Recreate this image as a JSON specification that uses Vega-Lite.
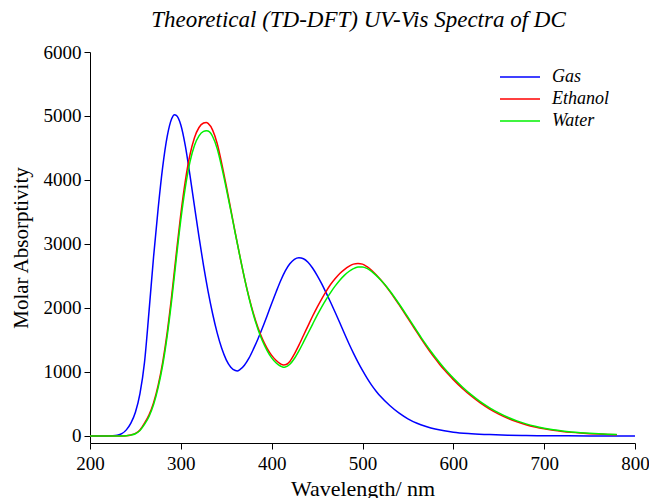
{
  "$schema": "https://vega.github.io/schema/vega-lite/v6.json",
  "width": 545,
  "height": 391,
  "autosize": "none",
  "padding": {"left": 90, "top": 52, "right": 14, "bottom": 55},
  "background": "white",
  "title": {"text": "Theoretical (TD-DFT) UV-Vis Spectra of DC", "font": "Liberation Serif", "fontStyle": "italic", "fontWeight": "normal", "fontSize": 23, "color": "black", "anchor": "middle", "offset": 11, "dx": -4},
  "data": {"values": [
    {"wl": 200, "Gas": 0, "Ethanol": 0, "Water": 0},
    {"wl": 210, "Gas": 0, "Ethanol": 0, "Water": 0},
    {"wl": 220, "Gas": 0, "Ethanol": 0, "Water": 0},
    {"wl": 225, "Gas": 2, "Ethanol": 0, "Water": 0},
    {"wl": 230, "Gas": 10, "Ethanol": 0, "Water": 0},
    {"wl": 235, "Gas": 35, "Ethanol": 1, "Water": 1},
    {"wl": 240, "Gas": 95, "Ethanol": 5, "Water": 4},
    {"wl": 245, "Gas": 200, "Ethanol": 16, "Water": 13},
    {"wl": 250, "Gas": 370, "Ethanol": 40, "Water": 34},
    {"wl": 255, "Gas": 660, "Ethanol": 95, "Water": 85},
    {"wl": 260, "Gas": 1150, "Ethanol": 200, "Water": 180},
    {"wl": 265, "Gas": 1950, "Ethanol": 330, "Water": 305},
    {"wl": 270, "Gas": 2800, "Ethanol": 520, "Water": 490},
    {"wl": 275, "Gas": 3550, "Ethanol": 790, "Water": 755},
    {"wl": 280, "Gas": 4200, "Ethanol": 1150, "Water": 1105},
    {"wl": 285, "Gas": 4680, "Ethanol": 1620, "Water": 1565},
    {"wl": 290, "Gas": 4960, "Ethanol": 2200, "Water": 2130},
    {"wl": 293, "Gas": 5020},
    {"wl": 295, "Gas": 5010, "Ethanol": 2850, "Water": 2770},
    {"wl": 300, "Gas": 4860, "Ethanol": 3470, "Water": 3380},
    {"wl": 305, "Gas": 4530, "Ethanol": 3990, "Water": 3890},
    {"wl": 310, "Gas": 4080, "Ethanol": 4390, "Water": 4280},
    {"wl": 315, "Gas": 3590, "Ethanol": 4660, "Water": 4540},
    {"wl": 320, "Gas": 3110, "Ethanol": 4820, "Water": 4690},
    {"wl": 325, "Gas": 2660, "Ethanol": 4890, "Water": 4760},
    {"wl": 328, "Ethanol": 4900, "Water": 4770},
    {"wl": 330, "Gas": 2260, "Ethanol": 4885, "Water": 4765},
    {"wl": 335, "Gas": 1910, "Ethanol": 4780, "Water": 4680},
    {"wl": 340, "Gas": 1610, "Ethanol": 4570, "Water": 4490},
    {"wl": 345, "Gas": 1370, "Ethanol": 4260, "Water": 4200},
    {"wl": 350, "Gas": 1190, "Ethanol": 3910, "Water": 3870},
    {"wl": 355, "Gas": 1075, "Ethanol": 3540, "Water": 3520},
    {"wl": 360, "Gas": 1022, "Ethanol": 3170, "Water": 3160},
    {"wl": 362, "Gas": 1015},
    {"wl": 365, "Gas": 1035, "Ethanol": 2810, "Water": 2810},
    {"wl": 370, "Gas": 1105, "Ethanol": 2470, "Water": 2470},
    {"wl": 375, "Gas": 1215, "Ethanol": 2170, "Water": 2160},
    {"wl": 380, "Gas": 1360, "Ethanol": 1910, "Water": 1890},
    {"wl": 385, "Gas": 1520, "Ethanol": 1690, "Water": 1665},
    {"wl": 390, "Gas": 1695, "Ethanol": 1510, "Water": 1480},
    {"wl": 395, "Gas": 1880, "Ethanol": 1370, "Water": 1335},
    {"wl": 400, "Gas": 2070, "Ethanol": 1260, "Water": 1220},
    {"wl": 405, "Gas": 2255, "Ethanol": 1180, "Water": 1140},
    {"wl": 410, "Gas": 2430, "Ethanol": 1125, "Water": 1090},
    {"wl": 413, "Ethanol": 1110, "Water": 1075},
    {"wl": 415, "Gas": 2580, "Ethanol": 1112, "Water": 1078},
    {"wl": 420, "Gas": 2690, "Ethanol": 1165, "Water": 1120},
    {"wl": 425, "Gas": 2760, "Ethanol": 1280, "Water": 1210},
    {"wl": 430, "Gas": 2785, "Ethanol": 1420, "Water": 1330},
    {"wl": 435, "Gas": 2770, "Ethanol": 1570, "Water": 1465},
    {"wl": 440, "Gas": 2715, "Ethanol": 1720, "Water": 1605},
    {"wl": 445, "Gas": 2625, "Ethanol": 1870, "Water": 1745},
    {"wl": 450, "Gas": 2510, "Ethanol": 2010, "Water": 1885},
    {"wl": 455, "Gas": 2380, "Ethanol": 2140, "Water": 2015},
    {"wl": 460, "Gas": 2235, "Ethanol": 2260, "Water": 2135},
    {"wl": 465, "Gas": 2085, "Ethanol": 2370, "Water": 2245},
    {"wl": 470, "Gas": 1930, "Ethanol": 2460, "Water": 2345},
    {"wl": 475, "Gas": 1770, "Ethanol": 2540, "Water": 2435},
    {"wl": 480, "Gas": 1605, "Ethanol": 2600, "Water": 2510},
    {"wl": 485, "Gas": 1445, "Ethanol": 2650, "Water": 2570},
    {"wl": 490, "Gas": 1295, "Ethanol": 2685, "Water": 2615},
    {"wl": 495, "Gas": 1155, "Ethanol": 2695, "Water": 2640},
    {"wl": 500, "Gas": 1025, "Ethanol": 2685, "Water": 2642},
    {"wl": 505, "Gas": 905, "Ethanol": 2645, "Water": 2618},
    {"wl": 510, "Gas": 795, "Ethanol": 2590, "Water": 2572},
    {"wl": 515, "Gas": 700, "Ethanol": 2520, "Water": 2510},
    {"wl": 520, "Gas": 615, "Ethanol": 2440, "Water": 2438},
    {"wl": 525, "Ethanol": 2355, "Water": 2358},
    {"wl": 530, "Gas": 475, "Ethanol": 2260, "Water": 2268},
    {"wl": 535, "Ethanol": 2160, "Water": 2172},
    {"wl": 540, "Gas": 360, "Ethanol": 2055, "Water": 2070},
    {"wl": 545, "Ethanol": 1948, "Water": 1965},
    {"wl": 550, "Gas": 268, "Ethanol": 1838, "Water": 1856},
    {"wl": 555, "Ethanol": 1728, "Water": 1747},
    {"wl": 560, "Gas": 198, "Ethanol": 1618, "Water": 1638},
    {"wl": 565, "Ethanol": 1510, "Water": 1530},
    {"wl": 570, "Gas": 148, "Ethanol": 1405, "Water": 1428},
    {"wl": 575, "Ethanol": 1303, "Water": 1328},
    {"wl": 580, "Gas": 108, "Ethanol": 1208, "Water": 1234},
    {"wl": 585, "Ethanol": 1118, "Water": 1145},
    {"wl": 590, "Gas": 80, "Ethanol": 1034, "Water": 1060},
    {"wl": 595, "Ethanol": 955, "Water": 980},
    {"wl": 600, "Gas": 58, "Ethanol": 880, "Water": 905},
    {"wl": 610, "Ethanol": 742, "Water": 765},
    {"wl": 620, "Gas": 35, "Ethanol": 620, "Water": 641},
    {"wl": 630, "Ethanol": 512, "Water": 532},
    {"wl": 640, "Gas": 21, "Ethanol": 420, "Water": 440},
    {"wl": 650, "Ethanol": 342, "Water": 360},
    {"wl": 660, "Gas": 12, "Ethanol": 276, "Water": 292},
    {"wl": 670, "Ethanol": 221, "Water": 236},
    {"wl": 680, "Gas": 6, "Ethanol": 176, "Water": 189},
    {"wl": 690, "Ethanol": 140, "Water": 151},
    {"wl": 700, "Gas": 3, "Ethanol": 111, "Water": 121},
    {"wl": 710, "Ethanol": 88, "Water": 97},
    {"wl": 720, "Ethanol": 70, "Water": 78},
    {"wl": 730, "Ethanol": 56, "Water": 63},
    {"wl": 740, "Ethanol": 45, "Water": 51},
    {"wl": 750, "Gas": 1, "Ethanol": 36, "Water": 41},
    {"wl": 760, "Ethanol": 29, "Water": 33},
    {"wl": 770, "Ethanol": 23, "Water": 27},
    {"wl": 780, "Ethanol": 18, "Water": 22},
    {"wl": 800, "Gas": 0}
  ]},
  "transform": [
    {"fold": ["Gas", "Ethanol", "Water"], "as": ["series", "value"]},
    {"filter": "isValid(datum.value)"}
  ],
  "mark": {"type": "line", "strokeWidth": 1.5, "interpolate": "monotone"},
  "encoding": {
    "x": {
      "field": "wl", "type": "quantitative",
      "scale": {"domain": [200, 800], "nice": false},
      "axis": {
        "values": [200, 300, 400, 500, 600, 700, 800],
        "title": "Wavelength/ nm",
        "grid": false, "tickSize": 6, "labelPadding": 5,
        "domainColor": "black", "tickColor": "black", "labelColor": "black", "titleColor": "black",
        "labelFont": "Liberation Serif", "labelFontSize": 19,
        "titleFont": "Liberation Serif", "titleFontSize": 22, "titleFontWeight": "normal",
        "titlePadding": 5, "labelFlush": false
      }
    },
    "y": {
      "field": "value", "type": "quantitative",
      "scale": {"domain": [-110, 6000], "nice": false},
      "axis": {
        "values": [0, 1000, 2000, 3000, 4000, 5000, 6000],
        "format": "d",
        "title": "Molar Absorptivity",
        "grid": false, "tickSize": 6, "labelPadding": 3,
        "domainColor": "black", "tickColor": "black", "labelColor": "black", "titleColor": "black",
        "labelFont": "Liberation Serif", "labelFontSize": 19,
        "titleFont": "Liberation Serif", "titleFontSize": 21, "titleFontWeight": "normal",
        "titlePadding": 12, "labelFlush": false
      }
    },
    "color": {
      "field": "series", "type": "nominal",
      "scale": {"domain": ["Gas", "Ethanol", "Water"], "range": ["#0000ff", "#ff0000", "#00f000"]},
      "legend": {
        "title": null, "orient": "none", "legendX": 421, "legendY": 16,
        "symbolType": "M-20,0H20", "symbolSize": 4, "symbolStrokeWidth": 1.5,
        "labelFont": "Liberation Serif", "labelFontStyle": "italic", "labelFontSize": 18,
        "labelColor": "black", "labelOffset": 23, "rowPadding": 4
      }
    }
  },
  "config": {"view": {"stroke": null}}
}
